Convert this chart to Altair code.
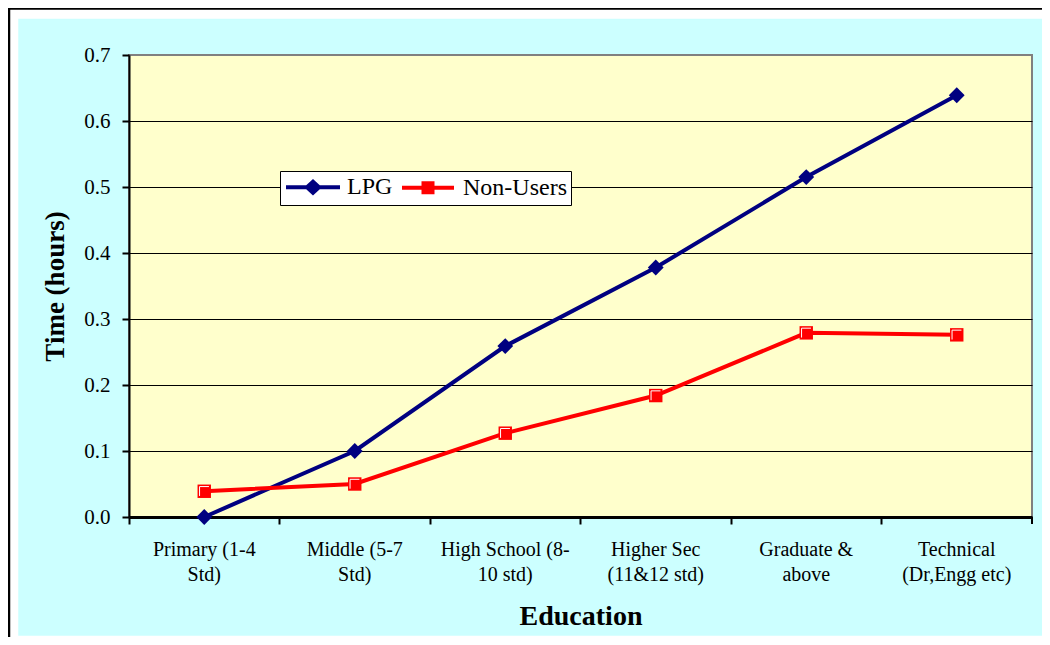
import altair as alt
import pandas as pd

categories = ["Primary (1-4\nStd)", "Middle (5-7\nStd)", "High School (8-\n10 std)",
              "Higher Sec\n(11&12 std)", "Graduate &\nabove", "Technical\n(Dr,Engg etc)"]
lpg = [0.0, 0.10, 0.259, 0.378, 0.515, 0.639]
non_users = [0.039, 0.05, 0.127, 0.184, 0.279, 0.276]
series = ["LPG", "Non-Users"]
y_ticks = [0.0, 0.1, 0.2, 0.3, 0.4, 0.5, 0.6, 0.7]

rows = []
for c, a, b in zip(categories, lpg, non_users):
    rows.append({"cat": c, "series": "LPG", "val": a})
    rows.append({"cat": c, "series": "Non-Users", "val": b})
df = pd.DataFrame(rows)

FONT = "Liberation Serif"
NAVY = "#000080"
RED = "#FF0000"
W, H = 903, 462

x_enc = alt.X(
    "cat:N", sort=categories, bandPosition=0.5,
    scale=alt.Scale(type="band", paddingInner=0, paddingOuter=0),
    axis=alt.Axis(
        title="Education", bandPosition=0, labelAngle=0,
        labelExpr="split(datum.label, '\\n')", labelLineHeight=25,
        labelFont=FONT, labelFontSize=20, labelColor="black", labelPadding=15,
        tickColor="black", tickSize=7, tickWidth=2,
        domainColor="black", domainWidth=3, grid=False,
        titleFont=FONT, titleFontSize=28, titleFontWeight="bold",
        titleColor="black", titlePadding=18,
    ),
)
y_enc = alt.Y(
    "val:Q",
    scale=alt.Scale(domain=[0, 0.7], nice=False),
    axis=alt.Axis(
        title="Time (hours)", values=y_ticks, format=".1f",
        labelFont=FONT, labelFontSize=21, labelColor="black", labelPadding=12,
        tickColor="black", tickSize=7, tickWidth=2,
        domainColor="black", domainWidth=2,
        grid=True, gridColor="black", gridWidth=1,
        gridOpacity={"condition": {"test": "datum.value > 0.65 || datum.value < 0.05", "value": 0}, "value": 1},
        titleFont=FONT, titleFontSize=27, titleFontWeight="bold",
        titleColor="black", titlePadding=14,
    ),
)
x_plain = alt.X("cat:N", sort=categories, bandPosition=0.5)
y_plain = alt.Y("val:Q")

base = alt.Chart(df)

line_lpg = base.transform_filter("datum.series == 'LPG'").mark_line(
    color=NAVY, strokeWidth=4).encode(x=x_enc, y=y_enc)
line_non = base.transform_filter("datum.series == 'Non-Users'").mark_line(
    color=RED, strokeWidth=4).encode(x=x_plain, y=y_plain)

pts_lpg = base.transform_filter("datum.series == 'LPG'").mark_point(
    shape="diamond", filled=True, color=NAVY, size=250, opacity=1).encode(x=x_plain, y=y_plain)
pts_non = base.transform_filter("datum.series == 'Non-Users'").mark_point(
    shape="square", filled=True, color=RED, size=180, opacity=1).encode(x=x_plain, y=y_plain)
pts_non_hl = base.transform_filter("datum.series == 'Non-Users'").mark_point(
    shape="M-0.7,0.7V-0.7H0.7", filled=False, stroke="white", strokeWidth=1,
    size=180, opacity=1).encode(x=x_plain, y=y_plain)

legend_paths = ["M-1,0H4.4M1.1,0L1.7,-0.55L2.3,0L1.7,0.55Z",
                "M-1,0H4.2M1.15,-0.45H2.05V0.45H1.15Z"]
leg = alt.Legend(
    title=None, orient="none", legendX=151, legendY=116,
    direction="horizontal", fillColor="white", strokeColor="black",
    padding=4, columnPadding=1, labelOffset=39,
    labelFont=FONT, labelFontSize=24, labelColor="black",
    symbolSize=400, symbolStrokeWidth=4, symbolOpacity=1,
)
legend_layer = base.transform_filter("false").mark_point(opacity=1, strokeWidth=4).encode(
    x=x_plain, y=y_plain,
    fill=alt.Fill("series:N", scale=alt.Scale(domain=series, range=[NAVY, RED]), legend=leg),
    stroke=alt.Stroke("series:N", scale=alt.Scale(domain=series, range=[NAVY, RED]), legend=leg),
    shape=alt.Shape("series:N", scale=alt.Scale(domain=series, range=legend_paths), legend=leg),
)

frame_data = alt.Data(values=[{"k": 1}])
end_tick = alt.Chart(frame_data).mark_rule(color="black", strokeWidth=2).encode(
    x=alt.value(W), y=alt.value(H), y2=alt.value(H + 7))
white_frame = alt.Chart(frame_data).mark_rect(
    fill=None, stroke="white", strokeWidth=10.5).encode(
    x=alt.value(-116), x2=alt.value(924), y=alt.value(-41.5), y2=alt.value(586))
black_frame = alt.Chart(frame_data).mark_rect(
    fill=None, stroke="black", strokeWidth=2.5).encode(
    x=alt.value(-120), x2=alt.value(940), y=alt.value(-46.5), y2=alt.value(600))

chart = alt.layer(
    line_lpg, line_non, pts_lpg, pts_non, pts_non_hl, legend_layer,
    end_tick, white_frame, black_frame
).properties(
    width=W, height=H,
    autosize=alt.AutoSizeParams(type="none"),
    padding={"left": 121, "top": 47, "right": 10, "bottom": 120},
    background="#CCFFFF",
).configure_view(
    fill="#FFFFCC", stroke="#808080", strokeWidth=2,
)

chart.save("out.html", embed_options={"renderer": "svg", "actions": False})
